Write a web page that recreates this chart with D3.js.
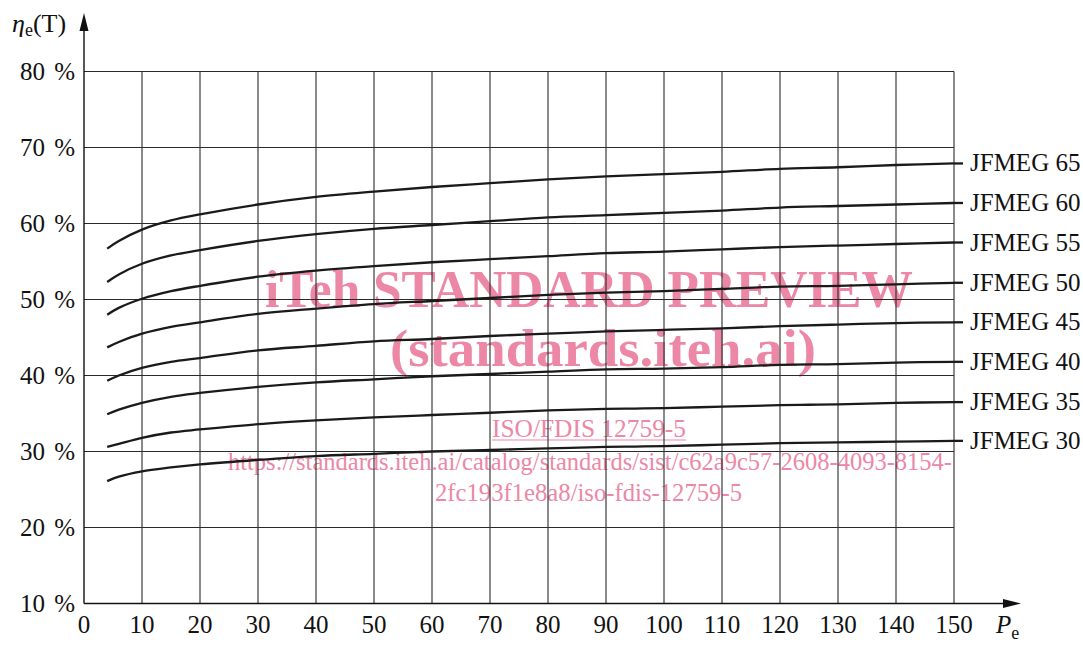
<!DOCTYPE html>
<html>
<head>
<meta charset="utf-8">
<script src="https://cdn.jsdelivr.net/npm/d3@7"></script>
<style>
  body { margin: 0; background: #fff; }
  svg { display: block; }
  text { font-family: "Liberation Serif", serif; fill: #111; }
</style>
</head>
<body>
<svg id="chart" width="1083" height="646"></svg>
<script>
"use strict";

// Puissance Pe (abscisse) aux points
var pValues = [4, 6, 10, 15, 20, 30, 40, 50, 60, 70, 80, 90, 100, 110, 120, 130, 140, 150]

// Rendement ηe(T) en %, une liste par classe
var eff65 = [56.7, 57.7, 59.2, 60.4, 61.2, 62.5, 63.5, 64.2, 64.8, 65.3, 65.8, 66.2, 66.5, 66.8, 67.2, 67.4, 67.7, 67.9]
var eff60 = [52.3, 53.3, 54.7, 55.8, 56.5, 57.7, 58.6, 59.3, 59.8, 60.3, 60.8, 61.1, 61.4, 61.7, 62.1, 62.3, 62.5, 62.7]
var eff55 = [48.0, 48.9, 50.1, 51.1, 51.8, 53.0, 53.8, 54.4, 54.9, 55.3, 55.7, 56.1, 56.3, 56.6, 56.9, 57.1, 57.3, 57.5]
var eff50 = [43.7, 44.4, 45.5, 46.4, 47.0, 48.1, 48.8, 49.4, 49.8, 50.2, 50.6, 50.9, 51.1, 51.4, 51.7, 51.8, 52.0, 52.2]
var eff45 = [39.3, 40.0, 41.0, 41.8, 42.3, 43.3, 43.9, 44.5, 44.8, 45.2, 45.5, 45.8, 46.0, 46.2, 46.5, 46.7, 46.9, 47.0]
var eff40 = [34.9, 35.5, 36.4, 37.2, 37.7, 38.5, 39.1, 39.5, 39.9, 40.2, 40.5, 40.8, 40.9, 41.1, 41.4, 41.5, 41.7, 41.8]
var eff35 = [30.6, 31.0, 31.8, 32.5, 32.9, 33.6, 34.1, 34.5, 34.8, 35.1, 35.4, 35.6, 35.7, 35.9, 36.1, 36.2, 36.4, 36.5]
var eff30 = [26.1, 26.7, 27.4, 27.9, 28.3, 28.9, 29.4, 29.7, 30.0, 30.2, 30.4, 30.6, 30.7, 30.9, 31.1, 31.2, 31.3, 31.4]

var seriesNames = ["JFMEG 65", "JFMEG 60", "JFMEG 55", "JFMEG 50", "JFMEG 45", "JFMEG 40", "JFMEG 35", "JFMEG 30"]
var seriesValues = [eff65, eff60, eff55, eff50, eff45, eff40, eff35, eff30]

var xTicks = [0, 10, 20, 30, 40, 50, 60, 70, 80, 90, 100, 110, 120, 130, 140, 150]
var yTicks = [10, 20, 30, 40, 50, 60, 70, 80]

var watermarkLines = ["iTeh STANDARD PREVIEW", "(standards.iteh.ai)"]
var watermarkRef = "ISO/FDIS 12759-5"
var watermarkUrl = ["https://standards.iteh.ai/catalog/standards/sist/c62a9c57-2608-4093-8154-", "2fc193f1e8a8/iso-fdis-12759-5"]

var svg = d3.select("#chart")

var x = d3.scaleLinear().domain([0, 150]).range([84, 954])
var y = d3.scaleLinear().domain([10, 80]).range([603.5, 71.5])

var pink = "#ec87a5"

/**
 * Filigrane rose au centre de la figure (dessiné sous la grille).
 */
function watermark(svg) {
  var g = svg.append("g").attr("class", "watermark")

  g.selectAll("text.big")
    .data(watermarkLines)
    .enter()
    .append("text")
      .attr("class", "big")
      .attr("x", function(d, i) { return i === 0 ? 265 : 390 })
      .attr("y", function(d, i) { return i === 0 ? 307 : 366 })
      .attr("textLength", function(d, i) { return i === 0 ? 648 : 426 })
      .attr("lengthAdjust", "spacingAndGlyphs")
      .style("font-size", "53px")
      .style("font-weight", "bold")
      .style("fill", pink)
      .text(function(d) { return d })

  g.append("text")
    .attr("x", 492)
    .attr("y", 437)
    .attr("textLength", 194)
    .attr("lengthAdjust", "spacingAndGlyphs")
    .style("font-size", "26px")
    .style("fill", pink)
    .text(watermarkRef)

  g.append("line")
    .attr("x1", 492).attr("x2", 686)
    .attr("y1", 440).attr("y2", 440)
    .style("stroke", pink)
    .style("stroke-width", 1.2)

  g.selectAll("text.url")
    .data(watermarkUrl)
    .enter()
    .append("text")
      .attr("class", "url")
      .attr("x", function(d, i) { return i === 0 ? 228 : 435 })
      .attr("y", function(d, i) { return i === 0 ? 470 : 501 })
      .attr("textLength", function(d, i) { return i === 0 ? 724 : 307 })
      .attr("lengthAdjust", "spacingAndGlyphs")
      .style("font-size", "26px")
      .style("fill", pink)
      .text(function(d) { return d })
}

/**
 * Grille de fond.
 */
function grid(svg) {
  var g = svg.append("g").attr("class", "grid")

  g.selectAll("line.v")
    .data(xTicks.slice(1))
    .enter()
    .append("line")
      .attr("class", "v")
      .attr("x1", function(d) { return x(d) })
      .attr("x2", function(d) { return x(d) })
      .attr("y1", y(10))
      .attr("y2", y(80))
      .style("stroke", "#2a2a2a")
      .style("stroke-width", 1.1)

  g.selectAll("line.h")
    .data(yTicks.slice(1))
    .enter()
    .append("line")
      .attr("class", "h")
      .attr("x1", x(0))
      .attr("x2", x(150))
      .attr("y1", function(d) { return y(d) })
      .attr("y2", function(d) { return y(d) })
      .style("stroke", "#2a2a2a")
      .style("stroke-width", 1.1)
}

/**
 * Axes fléchés, graduations et titres d'axes.
 */
function axes(svg) {
  var g = svg.append("g").attr("class", "axes")
  var x0 = x(0), y0 = y(10)

  // axe vertical avec flèche
  g.append("line")
    .attr("x1", x0).attr("x2", x0)
    .attr("y1", y0).attr("y2", 25)
    .style("stroke", "#111").style("stroke-width", 1.4)
  g.append("path")
    .attr("d", "M" + x0 + ",13 L" + (x0 - 4.5) + ",31 L" + (x0 + 4.5) + ",31 Z")
    .style("fill", "#111")

  // axe horizontal avec flèche
  g.append("line")
    .attr("x1", x0).attr("x2", 1008)
    .attr("y1", y0).attr("y2", y0)
    .style("stroke", "#111").style("stroke-width", 1.4)
  g.append("path")
    .attr("d", "M1021," + y0 + " L1003," + (y0 - 4.5) + " L1003," + (y0 + 4.5) + " Z")
    .style("fill", "#111")

  g.selectAll("text.xt")
    .data(xTicks)
    .enter()
    .append("text")
      .attr("class", "xt")
      .attr("x", function(d) { return x(d) })
      .attr("y", 633)
      .attr("text-anchor", "middle")
      .style("font-size", "25px")
      .text(function(d) { return d })

  g.selectAll("text.yt")
    .data(yTicks)
    .enter()
    .append("text")
      .attr("class", "yt")
      .attr("x", 75)
      .attr("y", function(d) { return y(d) + 8 })
      .attr("text-anchor", "end")
      .style("font-size", "25px")
      .style("word-spacing", "3px")
      .text(function(d) { return d + " %" })

  // titre de l'axe des y : ηe(T)
  var yl = g.append("text").attr("x", 12).attr("y", 32).style("font-size", "26px")
  yl.append("tspan").style("font-style", "italic").text("η")
  yl.append("tspan").attr("dy", 4).style("font-size", "18px").text("e")
  yl.append("tspan").attr("dy", -4).text("(T)")

  // titre de l'axe des x : Pe
  var xl = g.append("text").attr("x", 996).attr("y", 633).style("font-size", "25px")
  xl.append("tspan").style("font-style", "italic").text("P")
  xl.append("tspan").attr("dy", 6).style("font-size", "18px").text("e")
}

/**
 * Courbes de rendement et étiquettes à droite.
 */
function curves(svg) {
  var line = d3.line()
    .x(function(d) { return x(d[0]) })
    .y(function(d) { return y(d[1]) })
    .curve(d3.curveCatmullRom.alpha(0.5))

  var series = seriesNames.map(function(name, i) {
    return { name: name, points: pValues.map(function(p, j) { return [p, seriesValues[i][j]] }) }
  })

  var g = svg.append("g")
    .selectAll("g")
    .data(series)
    .enter()
    .append("g")
      .attr("class", "curve")

  g.append("path")
    .attr("d", function(d) { return line(d.points) })
    .style("fill", "none")
    .style("stroke", "#1a1a1a")
    .style("stroke-width", 2.3)

  // petit trait de rappel vers l'étiquette
  g.append("line")
    .attr("x1", x(150))
    .attr("x2", x(150) + 9)
    .attr("y1", function(d) { return y(d.points[d.points.length - 1][1]) })
    .attr("y2", function(d) { return y(d.points[d.points.length - 1][1]) })
    .style("stroke", "#1a1a1a")
    .style("stroke-width", 2.3)

  g.append("text")
    .attr("x", 970)
    .attr("y", function(d) { return y(d.points[d.points.length - 1][1]) + 8 })
    .style("font-size", "25px")
    .text(function(d) { return d.name })
}

watermark(svg)
grid(svg)
axes(svg)
curves(svg)
</script>
</body>
</html>
